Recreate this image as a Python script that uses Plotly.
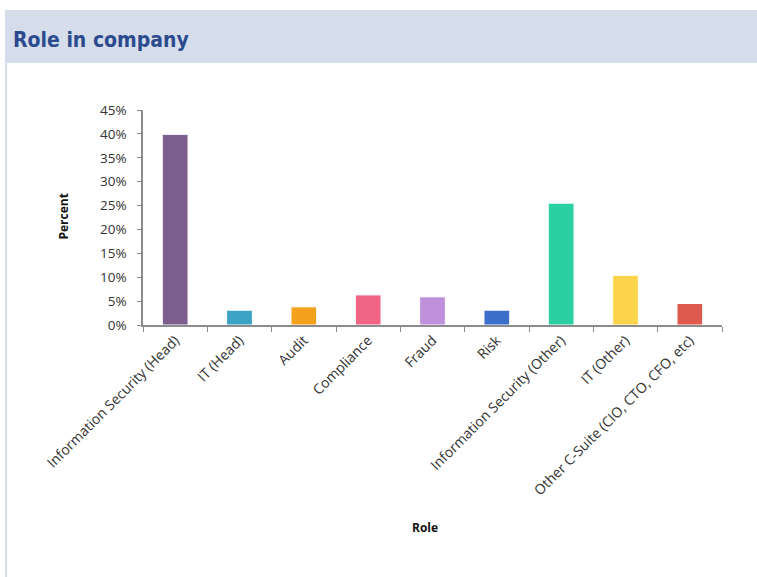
import plotly.graph_objects as go

# Survey data: share of respondents by role
roles = [
    "Information Security (Head)",
    "IT (Head)",
    "Audit",
    "Compliance",
    "Fraud",
    "Risk",
    "Information Security (Other)",
    "IT (Other)",
    "Other C-Suite (CIO, CTO, CFO, etc)",
]
percent = [39.9, 3.1, 3.8, 6.3, 5.9, 3.1, 25.5, 10.4, 4.5]
bar_colors = ["#7B5E8E", "#3BA3C5", "#F4A21E", "#F06486", "#BF90DB",
              "#3B6FCB", "#2ACFA2", "#FCD44B", "#DF5A4E"]
y_ticks = [0, 5, 10, 15, 20, 25, 30, 35, 40, 45]
y_tick_labels = ["0%", "5%", "10%", "15%", "20%", "25%", "30%", "35%", "40%", "45%"]

W, H = 757, 577
L, R, T, B = 143, 35, 110, 252
PW, PH = W - L - R, H - T - B


def px_x(px):
    return (px - L) / PW


def px_y(py):
    return (H - B - py) / PH


fig = go.Figure(
    go.Bar(
        x=roles,
        y=percent,
        width=0.4,
        marker=dict(color=bar_colors, line=dict(color="white", width=1)),
        hovertemplate="%{x}: %{y}%<extra></extra>",
    )
)

x_font = dict(family="Open Sans, Liberation Sans, sans-serif", size=14, color="#333333")
y_font = dict(family="Open Sans, Liberation Sans, sans-serif", size=13.5, color="#333333")
title_font = dict(family="Open Sans, Liberation Sans, sans-serif", size=12, color="#111111")

fig.update_layout(
    width=W,
    height=H,
    margin=dict(l=L, r=R, t=T, b=B),
    paper_bgcolor="white",
    plot_bgcolor="white",
    showlegend=False,
    xaxis=dict(
        tickangle=-45,
        tickson="boundaries",
        ticks="outside",
        ticklen=5,
        tickcolor="#8C8C8C",
        showline=True,
        linecolor="#8C8C8C",
        linewidth=1.5,
        showgrid=False,
        tickfont=x_font,
        fixedrange=True,
    ),
    yaxis=dict(
        range=[0, 45],
        tickmode="array",
        tickvals=y_ticks,
        ticktext=y_tick_labels,
        ticks="outside",
        ticklen=4,
        tickcolor="#8C8C8C",
        ticklabelstandoff=8,
        showline=True,
        linecolor="#8C8C8C",
        linewidth=1.5,
        showgrid=False,
        zeroline=False,
        tickfont=y_font,
        fixedrange=True,
    ),
)

# Header band and left frame line
fig.add_shape(type="rect", xref="paper", yref="paper",
              x0=px_x(5), x1=px_x(W + 2), y0=px_y(63), y1=px_y(10),
              fillcolor="#D6DDEA", line=dict(width=0), layer="below")
fig.add_shape(type="line", xref="paper", yref="paper",
              x0=px_x(6), x1=px_x(6), y0=px_y(63), y1=px_y(H + 2),
              line=dict(color="#D6DDEA", width=2), layer="below")

fig.add_annotation(
    text="<b>Role in company</b>",
    xref="paper", yref="paper",
    x=px_x(11), y=px_y(40),
    xanchor="left", yanchor="middle",
    showarrow=False,
    font=dict(family="DejaVu Sans Condensed, Liberation Sans, sans-serif",
              size=21, color="#2C4A8E"),
)

# Axis titles
fig.add_annotation(
    text="<b>Percent</b>", xref="paper", yref="paper",
    x=px_x(52), y=px_y(217), showarrow=False, textangle=-90,
    font=title_font,
)
fig.add_annotation(
    text="<b>Role</b>", xref="paper", yref="paper",
    x=px_x(425), y=px_y(538), showarrow=False,
    font=title_font,
)

fig.write_html("out.html")
